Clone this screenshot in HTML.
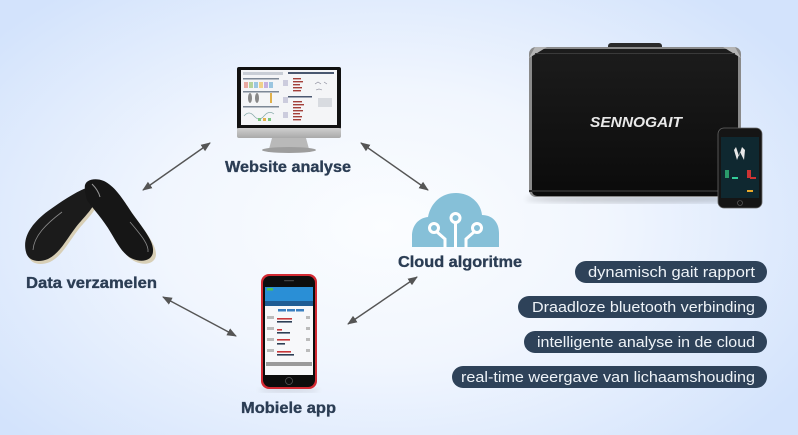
<!DOCTYPE html>
<html><head><meta charset="utf-8"><style>
html,body{margin:0;padding:0}
body{width:798px;height:435px;overflow:hidden;background:radial-gradient(ellipse 62% 70% at 48% 52%,#fbfdff 0%,#f1f6fe 45%,#d3e3fc 100%);}
svg{display:block}
.lbl{font-family:"Liberation Sans",sans-serif;font-weight:bold;fill:#2b3d54;stroke:#2b3d54;stroke-width:0.35;font-size:16px}
.pt{font-family:"Liberation Sans",sans-serif;fill:#eef3f8;font-size:15px}
</style></head><body>
<svg width="798" height="435" viewBox="0 0 798 435" xmlns="http://www.w3.org/2000/svg">
<defs>
<marker id="ah" viewBox="0 0 10 10" refX="9" refY="5" markerWidth="7" markerHeight="7" orient="auto-start-reverse">
<path d="M0,1 L10,5 L0,9 Z" fill="#555"/></marker>
<linearGradient id="caseg" x1="0" y1="0" x2="0" y2="1"><stop offset="0" stop-color="#1c1c1c"/><stop offset="1" stop-color="#0b0b0b"/></linearGradient>
<linearGradient id="chin" x1="0" y1="0" x2="0" y2="1"><stop offset="0" stop-color="#d0d0d0"/><stop offset="1" stop-color="#a9a9a9"/></linearGradient>
<filter id="bl"><feGaussianBlur stdDeviation="3"/></filter>
</defs>

<!-- arrows -->
<g stroke="#555" stroke-width="1.4" fill="none">
<line x1="143" y1="190" x2="210" y2="143" marker-start="url(#ah)" marker-end="url(#ah)"/>
<line x1="361" y1="143" x2="428" y2="190" marker-start="url(#ah)" marker-end="url(#ah)"/>
<line x1="163" y1="297" x2="236" y2="336" marker-start="url(#ah)" marker-end="url(#ah)"/>
<line x1="348" y1="324" x2="417" y2="277" marker-start="url(#ah)" marker-end="url(#ah)"/>
</g>

<!-- insoles -->
<g>
<!-- left insole (behind) -->
<path d="M28 255 C24 240,34 226,50 214 C64 204,76 196,88 191 C96 188,101 193,99 201 C96 211,86 220,78 230 C68 243,62 256,50 262 C40 266,30 264,28 255 Z" fill="#d8cfb6"/>
<path d="M26 252 C22 237,32 223,48 211 C62 201,74 193,86 188 C94 185,99 190,97 198 C94 208,84 217,76 227 C66 240,60 253,48 259 C38 263,28 261,26 252 Z" fill="#1b1b1b"/>
<path d="M33 250 C34 236,46 224,62 212" stroke="#8a8a8a" stroke-width="0.8" fill="none"/>
<!-- right insole (front) -->
<path d="M87 192 C85 183,96 180,106 184 C118 190,126 204,134 216 C144 230,156 244,156 254 C156 263,146 266,136 262 C126 258,120 246,114 236 C106 222,96 212,90 203 C88 199,87 196,87 192 Z" fill="#d8cfb6"/>
<path d="M85 189 C83 180,94 177,104 181 C116 187,124 201,132 213 C142 227,154 241,153 251 C153 260,143 263,133 259 C123 255,117 243,111 233 C103 219,93 209,87 200 C86 196,85 193,85 189 Z" fill="#161616"/>
<path d="M130 222 C140 234,149 244,148 252" stroke="#8a8a8a" stroke-width="0.8" fill="none"/>
<path d="M92 184 C96 188,99 193,100 197" stroke="#999" stroke-width="1" fill="none"/>
</g>

<!-- monitor -->
<g>
<rect x="237" y="67" width="104" height="62" rx="2" fill="#111"/>
<rect x="241" y="70" width="96" height="55" fill="#f4f5f7"/>
<rect x="237" y="128" width="104" height="10" rx="2" fill="url(#chin)"/>
<path d="M272 138 L306 138 L309 149 L269 149 Z" fill="#b9b9b9"/>
<ellipse cx="289" cy="150" rx="27" ry="3" fill="#9d9d9d"/>
<g fill="#c9ced6">
<rect x="243" y="72" width="40" height="3"/>
<rect x="288" y="72" width="46" height="2" fill="#4a5870"/>
<rect x="243" y="78" width="36" height="1.5" fill="#7d8896"/>
<rect x="243" y="91" width="36" height="1.5" fill="#7d8896"/>
<rect x="243" y="106" width="36" height="1.5" fill="#7d8896"/>
<rect x="288" y="96" width="24" height="1.5" fill="#4a5870"/>
</g>
<g>
<rect x="244" y="82" width="4" height="6" fill="#e9a9a0"/><rect x="249" y="82" width="4" height="6" fill="#b4d39b"/><rect x="254" y="82" width="4" height="6" fill="#9bc6e0"/><rect x="259" y="82" width="4" height="6" fill="#f0d28a"/><rect x="264" y="82" width="4" height="6" fill="#c6b0de"/><rect x="269" y="82" width="4" height="6" fill="#9bc6e0"/>
<ellipse cx="250" cy="98" rx="2" ry="5" fill="#888"/><ellipse cx="257" cy="98" rx="2" ry="5" fill="#888"/><rect x="270" y="93" width="2" height="10" fill="#e0b04a"/>
<path d="M244 116 Q249 110 254 116 T264 116 T274 114" stroke="#8aa" fill="none" stroke-width="0.7"/>
<rect x="258" y="118" width="3" height="3" fill="#7bc47f"/><rect x="263" y="118" width="3" height="3" fill="#e3b04c"/><rect x="268" y="118" width="3" height="3" fill="#7bc47f"/>
<rect x="283" y="80" width="5" height="6" fill="#ccd"/><rect x="283" y="97" width="5" height="6" fill="#ccd"/><rect x="283" y="112" width="5" height="6" fill="#ccd"/>
<g fill="#a3403a"><rect x="293" y="78" width="8" height="1.4"/><rect x="293" y="81" width="10" height="1.4"/><rect x="293" y="84" width="7" height="1.4"/><rect x="293" y="87" width="9" height="1.4"/><rect x="293" y="90" width="8" height="1.4"/>
<rect x="293" y="101" width="9" height="1.4"/><rect x="293" y="104" width="11" height="1.4"/><rect x="293" y="107" width="8" height="1.4"/><rect x="293" y="110" width="10" height="1.4"/><rect x="293" y="113" width="7" height="1.4"/><rect x="293" y="116" width="9" height="1.4"/><rect x="293" y="119" width="8" height="1.4"/></g>
<rect x="318" y="98" width="14" height="9" fill="#d8dbe0"/>
<path d="M315 84 l3 -2 l3 2 M324 82 l3 2 M316 90 l3 -1 l3 1" stroke="#889" stroke-width="0.6" fill="none"/>
</g>
</g>

<!-- cloud -->
<g>
<path d="M412 247 L412 236 C412 226,418 218,428 217 C431 202,442 193,456 193 C470 193,481 203,482 215 C492 215,499 222,499 233 L499 247 Z" fill="#86c0d8"/>
<g stroke="#fff" stroke-width="3" fill="none" stroke-linecap="butt">
<path d="M437 232 L445 239 L445 248"/>
<path d="M455.5 223 L455.5 248"/>
<path d="M474 232 L466 239 L466 248"/>
<circle cx="434" cy="228" r="4.5"/>
<circle cx="455.5" cy="218" r="4.5"/>
<circle cx="477" cy="228" r="4.5"/>
</g>
</g>

<!-- mobile phone -->
<g>
<ellipse cx="289" cy="390" rx="30" ry="2.5" fill="#000" opacity="0.12" filter="url(#bl)"/>
<rect x="261" y="274" width="56" height="115" rx="8" fill="#d32a33"/>
<rect x="263" y="276" width="52" height="111" rx="7" fill="#0d0d0d"/>
<rect x="284" y="280" width="10" height="1.2" rx="0.6" fill="#444"/>
<rect x="265" y="287" width="48" height="88" fill="#f7f8fa"/>
<rect x="265" y="287" width="48" height="14" fill="#2a8fd6"/>
<rect x="267" y="288" width="6" height="2.5" fill="#4cc152"/>
<rect x="265" y="301" width="48" height="5" fill="#1e5c94"/>
<rect x="278" y="309" width="8" height="2.5" fill="#3a7fc0"/><rect x="287" y="309" width="8" height="2.5" fill="#3a7fc0"/><rect x="296" y="309" width="8" height="2.5" fill="#3a7fc0"/>
<g fill="#c8373a"><rect x="277" y="318" width="15" height="1.6"/><rect x="277" y="329" width="5" height="1.6"/><rect x="277" y="339" width="13" height="1.6"/><rect x="277" y="351" width="14" height="1.6"/></g>
<g fill="#2d3f55"><rect x="277" y="321" width="15" height="1.6"/><rect x="277" y="332" width="13" height="1.6"/><rect x="277" y="343" width="8" height="1.6"/><rect x="277" y="354" width="17" height="1.6"/></g>
<g fill="#bbb"><rect x="267" y="316" width="7" height="3"/><rect x="267" y="327" width="7" height="3"/><rect x="267" y="338" width="7" height="3"/><rect x="267" y="349" width="7" height="3"/>
<rect x="306" y="316" width="4" height="3"/><rect x="306" y="327" width="4" height="3"/><rect x="306" y="338" width="4" height="3"/><rect x="306" y="349" width="4" height="3"/></g>
<rect x="266" y="362" width="46" height="4" fill="#9a9a9a"/>
<circle cx="289" cy="381" r="3.5" fill="none" stroke="#555" stroke-width="0.8"/>
</g>

<!-- case -->
<g>
<ellipse cx="640" cy="199" rx="115" ry="4" fill="#000" opacity="0.18" filter="url(#bl)"/>
<rect x="608" y="43" width="54" height="7" rx="3" fill="#2a2a2a"/>
<rect x="529" y="47" width="212" height="150" rx="7" fill="#8a8a8a"/>
<rect x="532" y="49" width="206" height="147" rx="5" fill="url(#caseg)"/>
<path d="M529 58 L547 47 L535 47 Z" fill="#b5b5b5"/>
<path d="M741 58 L723 47 L735 47 Z" fill="#b5b5b5"/>
<rect x="535" y="53" width="200" height="1" fill="#3a3a3a"/>
<rect x="529" y="190" width="212" height="2" fill="#2a2a2a"/>
<text x="590" y="127" font-family="Liberation Sans,sans-serif" font-weight="bold" font-style="italic" font-size="15" fill="#e8e8e8" textLength="92" lengthAdjust="spacingAndGlyphs">SENNOGAIT</text>
</g>
<!-- small phone -->
<g>
<rect x="718" y="128" width="44" height="80" rx="6" fill="#151515" stroke="#666" stroke-width="0.8"/>
<rect x="721" y="137" width="38" height="61" fill="#0f2830"/>
<path d="M734 150 L737 160 L740 152 L744 160 L745 150 L742 147 L739 156 L736 147 Z" fill="#e8e8e8"/>
<rect x="725" y="170" width="4" height="8" fill="#2a9a6a"/><rect x="747" y="170" width="4" height="8" fill="#c33"/>
<rect x="732" y="177" width="6" height="2" fill="#3c9"/><rect x="750" y="177" width="6" height="2" fill="#c33"/>
<rect x="747" y="190" width="6" height="2" fill="#e9a92b"/>
<circle cx="740" cy="203" r="2.5" fill="none" stroke="#666" stroke-width="0.6"/>
</g>

<!-- labels -->
<text class="lbl" x="225" y="172" textLength="126" lengthAdjust="spacingAndGlyphs">Website analyse</text>
<text class="lbl" x="26" y="288" textLength="131" lengthAdjust="spacingAndGlyphs">Data verzamelen</text>
<text class="lbl" x="398" y="267" textLength="124" lengthAdjust="spacingAndGlyphs">Cloud algoritme</text>
<text class="lbl" x="241" y="413" textLength="95" lengthAdjust="spacingAndGlyphs">Mobiele app</text>

<!-- pills -->
<g fill="#2e4259">
<rect x="575" y="261" width="192" height="22" rx="11"/>
<rect x="518" y="296" width="249" height="22" rx="11"/>
<rect x="524" y="331" width="243" height="22" rx="11"/>
<rect x="452" y="366" width="315" height="22" rx="11"/>
</g>
<text class="pt" x="588" y="277" textLength="167" lengthAdjust="spacingAndGlyphs">dynamisch gait rapport</text>
<text class="pt" x="532" y="312" textLength="223" lengthAdjust="spacingAndGlyphs">Draadloze bluetooth verbinding</text>
<text class="pt" x="537" y="347" textLength="218" lengthAdjust="spacingAndGlyphs">intelligente analyse in de cloud</text>
<text class="pt" x="461" y="382" textLength="294" lengthAdjust="spacingAndGlyphs">real-time weergave van lichaamshouding</text>
</svg>
</body></html>
